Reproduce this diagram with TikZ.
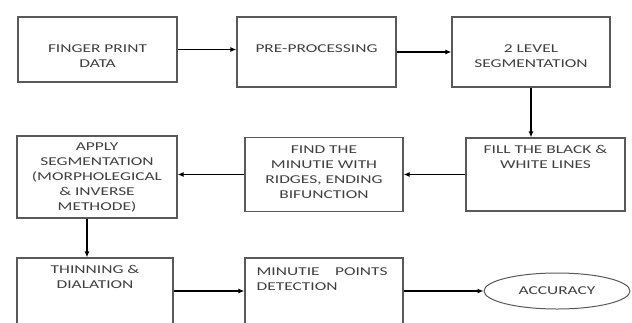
\documentclass[tikz,border=0pt]{standalone}
\usepackage{fontspec}
\setmainfont{Carlito}[FakeStretch=1.45]
\usetikzlibrary{arrows.meta,positioning,shapes.geometric}

\begin{document}
\begin{tikzpicture}[
  x=1pt,y=-1pt,
  every node/.style={font=\fontsize{12}{15}\selectfont,text=black!75},
  stagebox/.style={draw=black!65,line width=1.2pt,inner sep=0pt,minimum width=159pt},
  midtext/.style={align=center,inner sep=0pt,anchor=center},
  toptext/.style={align=center,inner sep=0pt,anchor=north},
  flowarrow/.style={-{Latex[length=6pt,width=5pt]},line width=1.5pt,black},
]
  \clip (0,0) rectangle (632,322);

  % top row
  \node[stagebox,minimum height=65pt,
        label={[midtext,yshift=-7pt]center:{FINGER PRINT\\DATA}}] (fpd) at (97.5,49.5) {};
  \node[stagebox,minimum height=70pt,
        label={[midtext,yshift=3pt]center:{PRE-PROCESSING}}] (pre) at (316.5,52) {};
  \node[stagebox,minimum width=158pt,minimum height=70pt,
        label={[midtext,yshift=-4.5pt]center:{2 LEVEL\\SEGMENTATION}}] (seg) at (531,52) {};

  % middle row
  \node[stagebox,minimum height=73pt,
        label={[toptext,yshift=-8pt]north:{FILL THE BLACK \&\\WHITE LINES}}] (fill) at (545.5,174.5) {};
  \node[stagebox,minimum width=158pt,minimum height=74pt,
        label={[midtext,yshift=2pt]center:{FIND THE\\MINUTIE WITH\\RIDGES, ENDING\\BIFUNCTION}}] (find) at (324,174.5) {};
  \node[stagebox,minimum width=160pt,minimum height=82pt,
        label={[midtext]center:{APPLY\\SEGMENTATION\\(MORPHOLEGICAL\\\& INVERSE\\METHODE)}}] (apply) at (97,177) {};

  % bottom row
  \node[stagebox,minimum width=156pt,minimum height=66pt,
        label={[toptext,yshift=-8pt]north:{THINNING \&\\DIALATION}}] (thin) at (95,291) {};
  \node[stagebox,minimum width=158pt,minimum height=66pt,
        label={[toptext,align=left,anchor=north west,xshift=12pt,yshift=-10pt]north west:{\makebox[131pt][s]{MINUTIE\hfill POINTS}\\DETECTION}}] (minut) at (324,291) {};
  \node[draw=black!65,line width=1pt,ellipse,minimum width=146pt,minimum height=36pt] (acc) at (557,291) {ACCURACY};

  \coordinate (applyout) at ([xshift=-10pt]apply.south);

  \draw[flowarrow] (fpd.east) -- (fpd.east -| pre.west);
  \draw[flowarrow] (pre.east) -- (pre.east -| seg.west);
  \draw[flowarrow] (seg.south) -- (seg.south |- fill.north);
  \draw[flowarrow] (fill.west) -- (fill.west -| find.east);
  \draw[flowarrow] (find.west) -- (find.west -| apply.east);
  \draw[flowarrow] (applyout) -- (applyout |- thin.north);
  \draw[flowarrow] (thin.east) -- (thin.east -| minut.west);
  \draw[flowarrow] (minut.east) -- (acc.west);
\end{tikzpicture}
\end{document}
